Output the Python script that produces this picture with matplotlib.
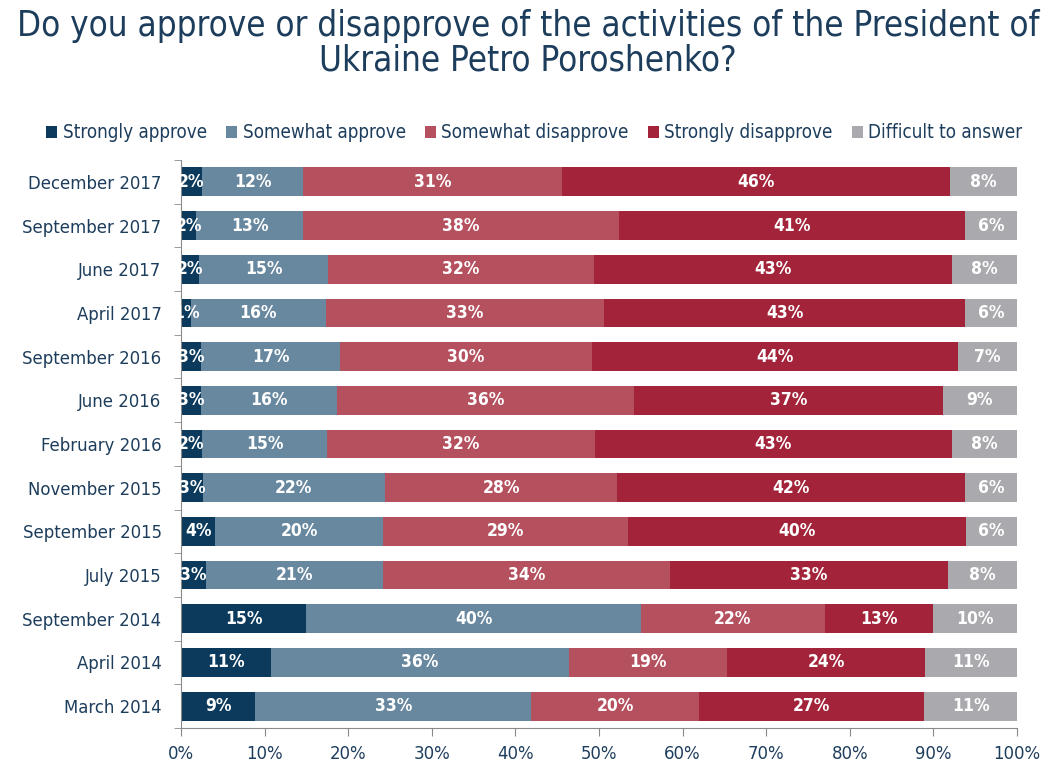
import matplotlib.pyplot as plt
import numpy as np

plt.rcParams['font.family'] = ['DejaVu Sans']
plt.rcParams['font.stretch'] = 'condensed'

# survey waves, top to bottom as drawn
waves = [
    "December 2017", "September 2017", "June 2017", "April 2017",
    "September 2016", "June 2016", "February 2016", "November 2015",
    "September 2015", "July 2015", "September 2014", "April 2014", "March 2014",
]
series = ["Strongly approve", "Somewhat approve", "Somewhat disapprove",
          "Strongly disapprove", "Difficult to answer"]
colors = ["#0b3a5c", "#68889f", "#b5505e", "#a3243a", "#a9a9ae"]

# bar widths
strongly_approve = [2.5, 1.8, 2.2, 1.2, 2.4, 2.4, 2.5, 2.6, 4.1, 3.0, 15.0, 10.8, 8.9]
somewhat_approve = [12.1, 12.8, 15.4, 16.1, 16.6, 16.3, 15.0, 21.8, 20.1, 21.2, 40.0, 35.6, 33.0]
somewhat_disapprove = [31.0, 37.8, 31.8, 33.3, 30.2, 35.5, 32.0, 27.8, 29.3, 34.3, 22.0, 18.9, 20.1]
strongly_disapprove = [46.4, 41.4, 42.8, 43.2, 43.8, 36.9, 42.7, 41.6, 40.4, 33.2, 13.0, 23.7, 26.9]
difficult = [8.0, 6.2, 7.8, 6.2, 7.0, 8.9, 7.8, 6.2, 6.1, 8.3, 10.0, 11.0, 11.1]

# printed labels
lbl_strongly_approve = [2, 2, 2, 1, 3, 3, 2, 3, 4, 3, 15, 11, 9]
lbl_somewhat_approve = [12, 13, 15, 16, 17, 16, 15, 22, 20, 21, 40, 36, 33]
lbl_somewhat_disapprove = [31, 38, 32, 33, 30, 36, 32, 28, 29, 34, 22, 19, 20]
lbl_strongly_disapprove = [46, 41, 43, 43, 44, 37, 43, 42, 40, 33, 13, 24, 27]
lbl_difficult = [8, 6, 8, 6, 7, 9, 8, 6, 6, 8, 10, 11, 11]

values = [strongly_approve, somewhat_approve, somewhat_disapprove,
          strongly_disapprove, difficult]
labels = [lbl_strongly_approve, lbl_somewhat_approve, lbl_somewhat_disapprove,
          lbl_strongly_disapprove, lbl_difficult]

navy = "#1d3d5c"

fig = plt.figure(figsize=(10.56, 7.69), dpi=100)
ax = fig.add_axes([181 / 1056, 1 - 728 / 769, 836 / 1056, 568 / 769])

y = np.arange(len(waves))
left = np.zeros(len(waves))
for name, vals, lbls, col in zip(series, values, labels, colors):
    vals = np.array(vals)
    ax.barh(y, vals, left=left, height=0.66, color=col, label=name, linewidth=0)
    for yi, l, v, t in zip(y, left, vals, lbls):
        ax.text(l + v / 2, yi, f"{t}%", ha="center", va="center",
                color="white", fontsize=12.5, fontweight="bold")
    left += vals

ax.set_xlim(0, 100)
ax.set_ylim(len(waves) - 0.5, -0.5)
ax.set_xticks(np.arange(0, 101, 10))
ax.set_xticklabels([f"{t}%" for t in range(0, 101, 10)])
ax.set_yticks(y)
ax.set_yticklabels(waves)
ax.set_yticks(np.arange(-0.5, len(waves), 1), minor=True)
ax.tick_params(axis="y", which="major", length=0, pad=14, labelsize=13.2, labelcolor=navy)
ax.tick_params(axis="y", which="minor", length=5, color="#8a8a8a")
ax.tick_params(axis="x", length=6, color="#8a8a8a", labelsize=13.2, labelcolor=navy, pad=6)
for s in ["top", "right"]:
    ax.spines[s].set_visible(False)
for s in ["left", "bottom"]:
    ax.spines[s].set_color("#8a8a8a")

fig.text(0.5, 0.988, "Do you approve or disapprove of the activities of the President of\nUkraine Petro Poroshenko?",
         ha="center", va="top", fontsize=25, color=navy, linespacing=1.0)

leg = fig.legend(loc="center", bbox_to_anchor=(0.506, 1 - 133 / 769), ncol=5, frameon=False,
                 handlelength=0.6, handleheight=0.6, handletextpad=0.3, columnspacing=1.0,
                 fontsize=13.5)
for t in leg.get_texts():
    t.set_color(navy)

fig.savefig("out.png", dpi=100)
